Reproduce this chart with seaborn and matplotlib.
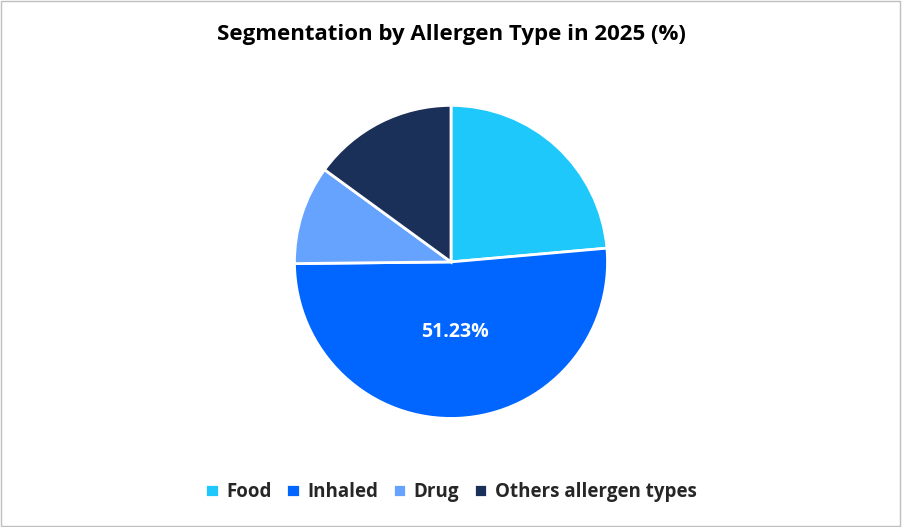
import matplotlib
matplotlib.use("Agg")
import matplotlib.pyplot as plt
import seaborn as sns
from matplotlib.patches import Rectangle

sns.set_theme(style="white")
plt.rcParams['font.family'] = ['Open Sans', 'DejaVu Sans']

categories = ["Food", "Inhaled", "Drug", "Others allergen types"]
values = [23.6, 51.23, 10.2, 14.97]
colors = ["#1EC8FA", "#0066FF", "#66A3FF", "#1B3058"]

fig = plt.figure(figsize=(9.02, 5.27), dpi=100)
fig.patches.append(Rectangle((0.001, 0.001), 0.997, 0.997, transform=fig.transFigure,
                             fill=False, edgecolor="#BFBFBF", linewidth=1))
ax = fig.add_axes([0.5 - 0.3 * 5.27 / 9.02, 0.503 - 0.3, 0.6 * 5.27 / 9.02, 0.6])

def fmt(p):
    return f"{p:.2f}%" if p > 50 else ""

wedges, texts, autotexts = ax.pie(values, colors=colors, startangle=90, counterclock=False,
                                  autopct=fmt, pctdistance=0.45,
                                  wedgeprops=dict(edgecolor="white", linewidth=2),
                                  textprops=dict(color="white", fontsize=14, fontweight="bold"))
ax.set_aspect("equal")
ax.set_xlim(-1.01, 1.01)
ax.set_ylim(-1.01, 1.01)

fig.suptitle("Segmentation by Allergen Type in 2025 (%)", y=0.955, fontsize=16, fontweight="bold", color="black")
fig.legend(wedges, categories, loc="lower center", bbox_to_anchor=(0.5, 0.015), ncol=4,
           frameon=False, handlelength=0.7, handleheight=0.7, columnspacing=0.8,
           handletextpad=0.4, prop=dict(weight="bold", size=13.5))
fig.savefig("out.png", dpi=100)
